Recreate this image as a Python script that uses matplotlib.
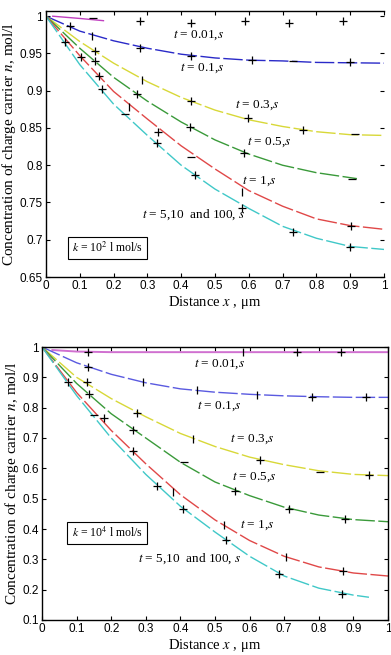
import matplotlib
matplotlib.use("Agg")
import matplotlib.pyplot as plt

plt.rcParams['mathtext.fontset'] = 'stix'

# ---- data, k = 10^2 (top panel) ----
x_grid = [0, 0.1, 0.2, 0.3, 0.4, 0.5, 0.6, 0.7, 0.8, 0.9, 1.0]
top_m_x = [0.02, 0.1, 0.17]
top_m_y = [1.0, 0.997, 0.994]
top_b = [1.0, 0.98, 0.967, 0.957, 0.949, 0.944, 0.941, 0.94, 0.938, 0.9375, 0.937]
top_y = [1.0, 0.966, 0.937, 0.912, 0.891, 0.874, 0.861, 0.852, 0.845, 0.841, 0.84]
top_g_x = [0, 0.1, 0.2, 0.3, 0.4, 0.5, 0.6, 0.7, 0.8, 0.92]
top_g = [1.0, 0.957, 0.918, 0.886, 0.858, 0.834, 0.815, 0.8, 0.79, 0.782]
top_r = [1.0, 0.947, 0.899, 0.862, 0.826, 0.795, 0.766, 0.745, 0.728, 0.719, 0.714]
top_c = [1.0, 0.935, 0.882, 0.84, 0.8, 0.768, 0.742, 0.718, 0.702, 0.691, 0.687]

top_plus_x = [0.07, 0.277, 0.43, 0.61, 0.9, 0.277, 0.43, 0.59, 0.72, 0.88,
              0.144, 0.43, 0.597, 0.76, 0.105, 0.144, 0.268, 0.425, 0.587,
              0.055, 0.156, 0.33, 0.902, 0.165, 0.327, 0.44, 0.58, 0.73, 0.9]
top_plus_y = [0.987, 0.958, 0.946, 0.941, 0.938, 0.993, 0.991, 0.993, 0.991, 0.994,
              0.953, 0.886, 0.863, 0.847, 0.945, 0.94, 0.895, 0.851, 0.817,
              0.965, 0.92, 0.844, 0.719, 0.902, 0.83, 0.787, 0.743, 0.711, 0.69]
top_vbar_x = [0.135, 0.283, 0.247, 0.58]
top_vbar_y = [0.974, 0.915, 0.878, 0.764]
top_hbar_x = [0.14, 0.73, 0.914, 0.233, 0.43, 0.905]
top_hbar_y = [0.997, 0.94, 0.842, 0.869, 0.811, 0.782]

# ---- data, k = 10^4 (bottom panel) ----
bot_m_x = [0.03, 0.1, 0.2, 1.0]
bot_m_y = [0.99, 0.985, 0.983, 0.983]
bot_b = [1.0, 0.948, 0.91, 0.882, 0.862, 0.851, 0.844, 0.839, 0.836, 0.834, 0.834]
bot_y = [1.0, 0.9, 0.83, 0.77, 0.715, 0.672, 0.637, 0.612, 0.592, 0.58, 0.576]
bot_g = [1.0, 0.88, 0.78, 0.7, 0.62, 0.555, 0.51, 0.472, 0.446, 0.431, 0.424]
bot_r = [1.0, 0.85, 0.725, 0.615, 0.513, 0.43, 0.362, 0.31, 0.275, 0.255, 0.245]
bot_c_x = [0, 0.1, 0.2, 0.3, 0.4, 0.5, 0.6, 0.7, 0.8, 0.9, 0.945]
bot_c = [1.0, 0.84, 0.7, 0.58, 0.475, 0.39, 0.31, 0.245, 0.205, 0.182, 0.175]

bot_plus_x = [0.133, 0.737, 0.864, 0.133, 0.78, 0.935, 0.13, 0.274, 0.63, 0.945,
              0.075, 0.136, 0.264, 0.558, 0.714, 0.876, 0.18, 0.263, 0.87,
              0.332, 0.407, 0.532, 0.685, 0.867]
bot_plus_y = [0.983, 0.983, 0.983, 0.934, 0.834, 0.834, 0.884, 0.784, 0.629, 0.579,
              0.884, 0.844, 0.728, 0.526, 0.467, 0.434, 0.765, 0.656, 0.262,
              0.543, 0.467, 0.364, 0.251, 0.185]
bot_vbar_x = [0.58, 0.292, 0.448, 0.62, 0.437, 0.38, 0.526, 0.705]
bot_vbar_y = [0.983, 0.884, 0.857, 0.841, 0.698, 0.523, 0.414, 0.308]
bot_hbar_x = [0.804, 0.41, 0.15]
bot_hbar_y = [0.589, 0.622, 0.775]

x_ticks = [0, 0.1, 0.2, 0.3, 0.4, 0.5, 0.6, 0.7, 0.8, 0.9, 1]
x_tick_labels = ['0', '0.1', '0.2', '0.3', '0.4', '0.5', '0.6', '0.7', '0.8', '0.9', '1']
top_y_ticks = [0.65, 0.7, 0.75, 0.8, 0.85, 0.9, 0.95, 1]
top_y_labels = ['0.65', '0.7', '0.75', '0.8', '0.85', '0.9', '0.95', '1']
bot_y_ticks = [0.1, 0.2, 0.3, 0.4, 0.5, 0.6, 0.7, 0.8, 0.9, 1]
bot_y_labels = ['0.1', '0.2', '0.3', '0.4', '0.5', '0.6', '0.7', '0.8', '0.9', '1']

curve_labels = [r'$t$ = 0.01,$s$', r'$t$ = 0.1,$s$', r'$t$ = 0.3,$s$',
                r'$t$ = 0.5,$s$', r'$t$ = 1,$s$', r'$t$ = 5,10  and 100, $s$']
top_lab_x = [0.375, 0.395, 0.56, 0.595, 0.58, 0.283]
top_lab_y = [0.975, 0.93, 0.881, 0.831, 0.778, 0.733]
bot_lab_x = [0.44, 0.448, 0.543, 0.55, 0.572, 0.278]
bot_lab_y = [0.944, 0.805, 0.695, 0.57, 0.414, 0.301]

colors = ['#c040c0', '#2a2ac8', '#d8d838', '#3a9a3a', '#e04848', '#40c8c8']
dash = (14, 2.5)

fig = plt.figure(figsize=(3.91, 6.55), dpi=100)
ax1 = fig.add_axes([46 / 391, 1 - 277 / 655, 338 / 391, 266 / 655])
ax2 = fig.add_axes([42 / 391, 1 - 620 / 655, 346 / 391, 273 / 655])

ax1.plot(top_m_x, top_m_y, color=colors[0], lw=1)
ax1.plot(x_grid, top_b, color=colors[1], lw=1, dashes=dash)
ax1.plot(x_grid, top_y, color=colors[2], lw=1, dashes=dash)
ax1.plot(top_g_x, top_g, color=colors[3], lw=1, dashes=dash)
ax1.plot(x_grid, top_r, color=colors[4], lw=1, dashes=dash)
ax1.plot(x_grid, top_c, color=colors[5], lw=1, dashes=dash)
ax1.plot(top_plus_x, top_plus_y, 'k+', ms=5.5, mew=0.9)
ax1.plot(top_vbar_x, top_vbar_y, 'k|', ms=5.5, mew=0.9)
ax1.plot(top_hbar_x, top_hbar_y, 'k_', ms=5.5, mew=0.9)

ax2.plot(bot_m_x, bot_m_y, color='#d070d0', lw=1.4)
ax2.plot(x_grid, bot_b, color='#5a5ae0', lw=1, dashes=dash)
ax2.plot(x_grid, bot_y, color=colors[2], lw=1, dashes=dash)
ax2.plot(x_grid, bot_g, color=colors[3], lw=1, dashes=dash)
ax2.plot(x_grid, bot_r, color=colors[4], lw=1, dashes=dash)
ax2.plot(bot_c_x, bot_c, color=colors[5], lw=1, dashes=dash)
ax2.plot(bot_plus_x, bot_plus_y, 'k+', ms=5.5, mew=0.9)
ax2.plot(bot_vbar_x, bot_vbar_y, 'k|', ms=5.5, mew=0.9)
ax2.plot(bot_hbar_x, bot_hbar_y, 'k_', ms=5.5, mew=0.9)

for lab, lx, ly in zip(curve_labels, top_lab_x, top_lab_y):
    ax1.text(lx, ly, lab, fontsize=9.5, family='Liberation Serif', va='center')
for lab, lx, ly in zip(curve_labels, bot_lab_x, bot_lab_y):
    ax2.text(lx, ly, lab, fontsize=9.5, family='Liberation Serif', va='center')

box = dict(boxstyle='square,pad=0.35', fc='white', ec='black', lw=0.8)
ax1.text(0.182, 0.689, r'$k$ = 10$^2$ l mol/s', fontsize=8.5, family='Liberation Serif',
         ha='center', va='center', bbox=box)
ax2.text(0.188, 0.387, r'$k$ = 10$^4$ l mol/s', fontsize=8.5, family='Liberation Serif',
         ha='center', va='center', bbox=box)

for ax, yt, yl, ylim in [(ax1, top_y_ticks, top_y_labels, (0.65, 1.007)),
                         (ax2, bot_y_ticks, bot_y_labels, (0.1, 1.0))]:
    ax.set_xlim(0, 1)
    ax.set_ylim(*ylim)
    ax.set_xticks(x_ticks)
    ax.set_xticklabels(x_tick_labels, family='Liberation Sans', fontsize=8.5)
    ax.set_yticks(yt)
    ax.set_yticklabels(yl, family='Liberation Sans', fontsize=8.5)
    ax.tick_params(direction='in', top=True, right=True, length=3, width=0.8, pad=2.5)
    ax.set_ylabel(r'Concentration of charge carrier $n$, mol/l',
                  family='Liberation Serif', fontsize=11, labelpad=1)
    ax.set_xlabel(r'Distance $x$ , μm', family='Liberation Serif', fontsize=10.5,
                  labelpad=1)
    for s in ax.spines.values():
        s.set_linewidth(1)

ax1.spines['right'].set_visible(False)

fig.savefig('out.png', dpi=100)
